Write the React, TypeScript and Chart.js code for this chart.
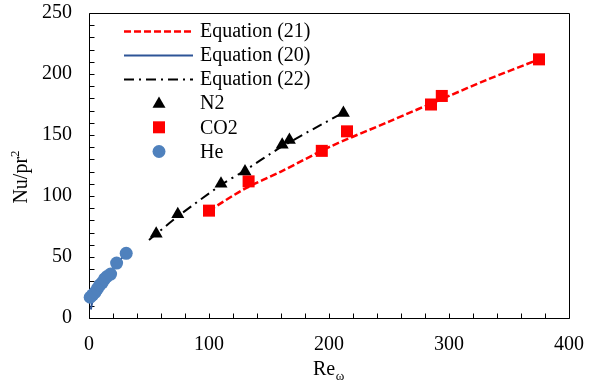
import React, { useEffect, useRef } from 'react';
import { Chart, registerables } from 'chart.js';

Chart.register(...registerables);

// ---- data ----
const heRe = [1, 3, 5, 7, 9, 11, 13, 15, 18, 23, 31];
const heNu = [17, 19, 21, 24, 27, 29, 32, 34, 36, 45, 53];
const n2Re = [56, 74, 110, 130, 161, 167, 212];
const n2Nu = [69, 85, 110, 120, 142, 146, 168];
const co2Re = [100, 133, 194, 215, 285, 294, 375];
const co2Nu = [88, 112, 137, 153, 175, 182, 212];
const eq21Re = [100, 130, 160, 200, 250, 300, 331, 375];
const eq21Nu = [88, 106, 120, 140, 161, 182, 195, 212];
const eq20Re = [1.5, 3, 6, 10, 20, 31];
const eq20Nu = [7, 14, 21, 28, 41, 53];
const eq22Re = [50, 75, 110, 130, 160, 213];
const eq22Nu = [64, 84, 109, 121, 140, 169];

const xMin = 0, xMax = 400, xMajor = 100, xMinor = 20;
const yMin = 0, yMax = 250, yMajor = 50, yMinor = 10;

const legendLabels = ['Equation (21)', 'Equation (20)', 'Equation (22)', 'N2', 'CO2', 'He'];
const xTitle = 'Re';
const xTitleSub = 'ω';
const yTitle = 'Nu/pr';
const yTitleSup = '2';

const FONT = "'Liberation Serif', 'Times New Roman', serif";
const RED = '#FF0000';
const HE_BLUE = '#4F81BD';
const LINE_BLUE = '#2E5597';

const pts = (xs: number[], ys: number[]) => xs.map((x, i) => ({ x, y: ys[i] }));

function drawMarker(ctx: CanvasRenderingContext2D, kind: string, x: number, y: number, color: string) {
  ctx.save();
  ctx.fillStyle = color;
  ctx.beginPath();
  if (kind === 'triangle') {
    const r = 7.5;
    ctx.moveTo(x, y - r);
    ctx.lineTo(x + 0.866 * r, y + r / 2);
    ctx.lineTo(x - 0.866 * r, y + r / 2);
    ctx.closePath();
  } else if (kind === 'rect') {
    ctx.rect(x - 6, y - 6, 12, 12);
  } else {
    ctx.arc(x, y, 6.5, 0, Math.PI * 2);
  }
  ctx.fill();
  ctx.restore();
}

const framePlugin = {
  id: 'frameAndLegend',
  beforeDatasetsDraw(chart: any) {
    const { ctx, chartArea: a, scales } = chart;
    const xs = scales.x, ys = scales.y;
    ctx.save();
    ctx.strokeStyle = '#000';
    ctx.lineWidth = 1;
    const L = Math.round(a.left) + 0.5, T = Math.round(a.top) + 0.5;
    const R = Math.round(a.right) + 0.5, B = Math.round(a.bottom) + 0.5;
    ctx.beginPath();
    ctx.rect(L, T, R - L, B - T);
    for (let v = xMin; v <= xMax; v += xMinor) {
      const px = Math.round(xs.getPixelForValue(v)) + 0.5;
      ctx.moveTo(px, B);
      ctx.lineTo(px, B - 5);
    }
    for (let v = yMin; v <= yMax; v += yMinor) {
      const py = Math.round(ys.getPixelForValue(v)) + 0.5;
      ctx.moveTo(L, py);
      ctx.lineTo(L + 5, py);
    }
    ctx.stroke();
    ctx.restore();
  },
  afterDraw(chart: any) {
    const { ctx } = chart;
    ctx.save();
    ctx.fillStyle = '#000';
    // x title
    ctx.textAlign = 'left';
    ctx.textBaseline = 'alphabetic';
    ctx.font = `20px ${FONT}`;
    const xt = 313;
    ctx.fillText(xTitle, xt, 375);
    const wRe = ctx.measureText(xTitle).width;
    ctx.font = `13px ${FONT}`;
    ctx.fillText(xTitleSub, xt + wRe + 0.5, 380);
    // y title
    ctx.save();
    ctx.translate(27, 177);
    ctx.rotate(-Math.PI / 2);
    ctx.font = `20px ${FONT}`;
    const w1 = ctx.measureText(yTitle).width;
    ctx.font = `13px ${FONT}`;
    const w2 = ctx.measureText(yTitleSup).width;
    const start = -(w1 + w2) / 2;
    ctx.font = `20px ${FONT}`;
    ctx.fillText(yTitle, start, 0);
    ctx.font = `13px ${FONT}`;
    ctx.fillText(yTitleSup, start + w1, -8);
    ctx.restore();

    // legend
    const rowY = (i: number) => 30.5 + i * 24.2;
    const lx0 = 124, lx1 = 193, mx = 159, tx = 200;
    const lineStyles = [
      { color: RED, dash: [7, 3], width: 2.5 },
      { color: LINE_BLUE, dash: [], width: 2 },
      { color: '#000', dash: [10, 5, 2, 5], width: 2 },
    ];
    lineStyles.forEach((s, i) => {
      const y = Math.round(rowY(i)) + 0.5;
      ctx.save();
      ctx.strokeStyle = s.color;
      ctx.lineWidth = s.width;
      ctx.setLineDash(s.dash);
      ctx.beginPath();
      ctx.moveTo(lx0, y);
      ctx.lineTo(lx1, y);
      ctx.stroke();
      ctx.restore();
    });
    drawMarker(ctx, 'triangle', mx, rowY(3) + 1, '#000');
    drawMarker(ctx, 'rect', mx, rowY(4), RED);
    drawMarker(ctx, 'circle', mx, rowY(5), HE_BLUE);
    ctx.font = `20px ${FONT}`;
    ctx.fillStyle = '#000';
    ctx.textAlign = 'left';
    ctx.textBaseline = 'middle';
    legendLabels.forEach((t, i) => ctx.fillText(t, tx, rowY(i) + 1));
    ctx.restore();
  },
};

export default function App() {
  const ref = useRef<HTMLCanvasElement | null>(null);
  useEffect(() => {
    document.body.style.margin = '0';
    const canvas = ref.current;
    if (!canvas) return;
    const chart = new Chart(canvas, {
      type: 'scatter',
      data: {
        datasets: [
          {
            label: 'N2', data: pts(n2Re, n2Nu), pointStyle: 'triangle', pointRadius: 7.5,
            backgroundColor: '#000', borderColor: '#000', borderWidth: 0, order: 0, clip: false,
          },
          {
            label: 'CO2', data: pts(co2Re, co2Nu), pointStyle: 'rect', pointRadius: 8.5,
            backgroundColor: RED, borderColor: RED, borderWidth: 0, order: 0, clip: false,
          },
          {
            label: 'He', data: pts(heRe, heNu), pointStyle: 'circle', pointRadius: 6.5,
            backgroundColor: HE_BLUE, borderColor: HE_BLUE, borderWidth: 0, order: 0, clip: false,
          },
          {
            label: 'Equation (21)', data: pts(eq21Re, eq21Nu), showLine: true, pointRadius: 0,
            borderColor: RED, borderWidth: 2.5, borderDash: [7, 3], tension: 0.3, order: 1,
          },
          {
            label: 'Equation (20)', data: pts(eq20Re, eq20Nu), showLine: true, pointRadius: 0,
            borderColor: LINE_BLUE, borderWidth: 2, tension: 0.3, order: 2,
          },
          {
            label: 'Equation (22)', data: pts(eq22Re, eq22Nu), showLine: true, pointRadius: 0,
            borderColor: '#000', borderWidth: 2, borderDash: [10, 5, 2, 5], tension: 0.3, order: 1,
          },
        ] as any,
      },
      options: {
        responsive: false,
        animation: false,
        devicePixelRatio: 1,
        layout: { padding: { left: 0, top: 13, right: 26, bottom: 0 } },
        plugins: { legend: { display: false }, tooltip: { enabled: false } },
        scales: {
          x: {
            type: 'linear', min: xMin, max: xMax,
            grid: { display: false, drawTicks: false },
            border: { display: false },
            ticks: { stepSize: xMajor, padding: 15, color: '#000', font: { family: FONT, size: 20 } },
            afterFit: (s: any) => { s.height = 62; s.paddingLeft = 0; s.paddingRight = 0; },
          },
          y: {
            type: 'linear', min: yMin, max: yMax,
            grid: { display: false, drawTicks: false },
            border: { display: false },
            ticks: { stepSize: yMajor, padding: 17, color: '#000', font: { family: FONT, size: 20 } },
            afterFit: (s: any) => { s.width = 89; s.paddingTop = 0; s.paddingBottom = 0; },
          },
        },
      } as any,
      plugins: [framePlugin],
    });
    return () => chart.destroy();
  }, []);
  return <canvas ref={ref} width={595} height={380} style={{ display: 'block' }} />;
}
